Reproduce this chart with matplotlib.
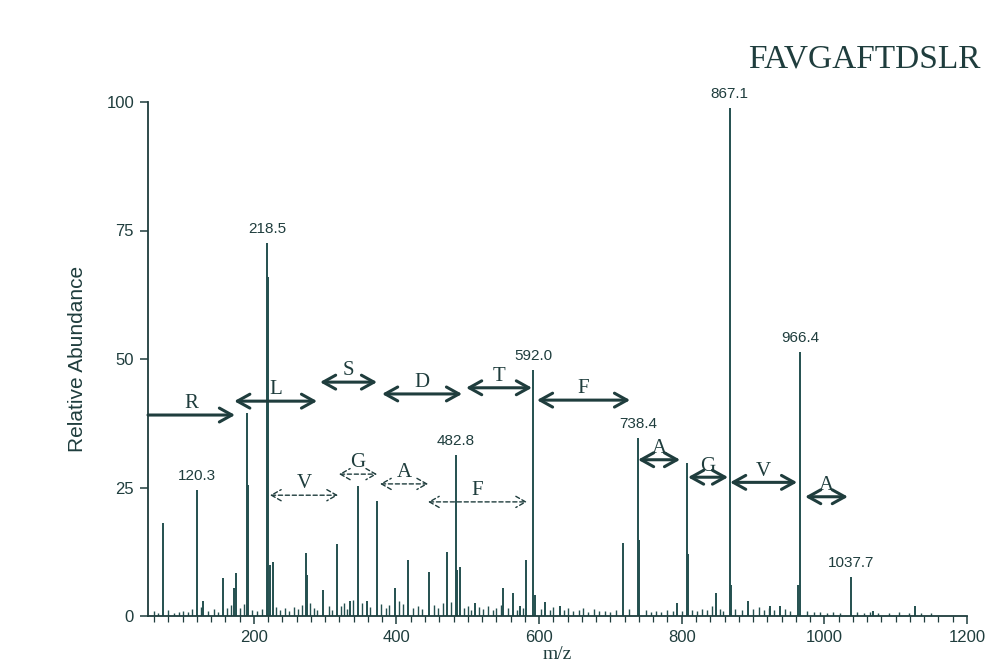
import matplotlib
matplotlib.use('Agg')
import matplotlib.pyplot as plt
from matplotlib.ticker import MultipleLocator

# major peaks (m/z, relative abundance)
peak_mz = [72.6, 120.3, 129, 157, 172, 175.5, 190.5, 192.5, 218.5, 220, 222, 226.5,
           272.5, 274.5, 297, 316.6, 335, 346, 358, 372.8, 398, 416, 445.7, 471.5,
           482.8, 485, 489, 510, 550, 563, 573, 581.8, 592.0, 594, 608, 629,
           718, 738.4, 740, 793, 807.5, 809, 848, 867.1, 869, 893, 924, 938,
           963.5, 966.4, 1037.7, 1068, 1127]
peak_int = [18, 24.5, 3, 7.4, 5.5, 8.4, 39.5, 25.5, 72.5, 66, 10, 10.5,
            12.2, 8, 5, 14, 3, 25.3, 3, 22.4, 5.4, 10.9, 8.6, 12.4,
            31.3, 9, 9.5, 2.5, 5.4, 4.5, 2, 10.9, 47.9, 4, 2.7, 2,
            14.2, 34.6, 14.8, 2.5, 29.8, 12, 4.5, 98.8, 6, 3, 2, 2,
            6, 51.4, 7.6, 1, 2]

# small background peaks
noise_peaks = [(60, 1.0), (66, 0.6), (80, 1.2), (88, 0.5), (95, 0.8), (101, 1.0),
               (108, 0.7), (113, 1.3), (126, 1.8), (136, 0.9), (144, 1.4), (150, 0.8),
               (163, 1.6), (168, 2.2), (181, 1.5), (186, 2.4), (198, 1.2), (205, 0.9),
               (211, 1.3), (231, 1.8), (236, 1.1), (244, 1.5), (249, 0.9), (256, 1.7),
               (262, 1.4), (268, 2.2), (279, 2.6), (284, 1.5), (289, 1.2), (305, 1.9),
               (310, 1.1), (322, 2.0), (327, 2.6), (331, 1.4), (339, 3.2), (352, 2.5),
               (363, 1.8), (378, 2.4), (385, 1.5), (390, 2.2), (403, 3.0), (409, 2.4),
               (423, 1.6), (430, 2.0), (436, 1.3), (452, 2.2), (458, 1.5), (465, 2.6),
               (477, 2.8), (495, 1.6), (500, 1.9), (505, 1.2), (516, 1.8), (522, 1.3),
               (528, 2.0), (535, 1.2), (540, 1.6), (546, 2.1), (557, 1.5), (569, 1.2),
               (577, 1.6), (603, 1.4), (615, 1.2), (620, 1.8), (635, 1.1), (641, 1.6),
               (648, 0.9), (656, 1.2), (662, 1.5), (669, 0.8), (677, 1.3), (684, 0.9),
               (692, 1.0), (700, 0.7), (708, 1.1), (726, 1.3), (750, 1.2), (757, 0.8),
               (764, 1.0), (771, 0.7), (780, 1.1), (788, 0.9), (800, 1.0), (815, 1.2),
               (822, 1.0), (829, 1.4), (836, 1.1), (842, 2.0), (853, 1.3), (858, 1.0),
               (875, 1.4), (885, 1.1), (900, 1.3), (908, 1.8), (915, 1.2), (922, 1.5),
               (930, 1.1), (945, 1.3), (952, 1.0), (975, 0.9), (985, 0.7), (994, 0.8),
               (1003, 0.6), (1012, 0.7), (1022, 0.6), (1046, 0.8), (1055, 0.6),
               (1064, 0.7), (1075, 0.6), (1090, 0.6), (1104, 0.7), (1118, 0.5),
               (1135, 0.6), (1150, 0.5)]

labelled = [120.3, 218.5, 482.8, 592.0, 738.4, 867.1, 966.4, 1037.7]
labelled_int = [24.5, 72.5, 31.3, 47.9, 34.6, 98.8, 51.4, 7.6]

# sequence ladder: (residue, start m/z, end m/z, height)
solid_arrows = [('L', 172.5, 288.7, 41.8), ('S', 292.8, 372.8, 45.5),
                ('D', 379.8, 492.0, 43.2), ('T', 497.6, 590.0, 44.4),
                ('F', 597.0, 727.6, 42.0), ('A', 738.7, 797.7, 30.4),
                ('G', 808.8, 865.0, 27.0), ('V', 867.8, 961.8, 26.0),
                ('A', 973.0, 1033.0, 23.2)]
r_arrow = ('R', 51.6, 173.6, 39.1)
dashed_arrows = [('V', 222.7, 318.0, 23.5), ('G', 319.4, 372.8, 27.6),
                 ('A', 377.0, 444.3, 25.7), ('F', 444.3, 583.0, 22.2)]

ink = '#1f3d3d'
line_c = '#24504f'

fig = plt.figure(figsize=(9.93, 6.68), dpi=100)
ax = fig.add_axes([148/993, 52/668, 819/993, 514/668])

nx = [p[0] for p in noise_peaks]
ny = [p[1] for p in noise_peaks]
ax.vlines(nx, 0, ny, color=line_c, lw=1.0)
ax.vlines(peak_mz, 0, peak_int, color=line_c, lw=1.4)

for mz, h in zip(labelled, labelled_int):
    ax.annotate('%.1f' % mz, (mz, h), xytext=(0, 5), textcoords='offset points',
                ha='center', va='bottom', fontsize=11, color=ink,
                family='Liberation Sans', annotation_clip=False)

serif = 'Liberation Serif'
for lab, a, b, y in solid_arrows:
    ax.annotate('', xy=(b, y), xytext=(a, y),
                arrowprops=dict(arrowstyle='<->,head_length=0.45,head_width=0.25',
                                lw=2.2, color=ink, shrinkA=0, shrinkB=0,
                                mutation_scale=20))
    ax.text((a + b) / 2, y + 1.3, lab, ha='center', va='baseline',
            fontsize=15, family=serif, color=ink)

lab, a, b, y = r_arrow
ax.annotate('', xy=(b, y), xytext=(a, y),
            arrowprops=dict(arrowstyle='->,head_length=0.45,head_width=0.25',
                            lw=2.2, color=ink, shrinkA=0, shrinkB=0,
                            mutation_scale=20))
ax.text((a + b) / 2, y + 1.3, lab, ha='center', va='baseline',
        fontsize=15, family=serif, color=ink)

for lab, a, b, y in dashed_arrows:
    ax.annotate('', xy=(b, y), xytext=(a, y),
                arrowprops=dict(arrowstyle='<->,head_length=0.35,head_width=0.2',
                                lw=1.0, ls=(0, (3, 2)), color=ink,
                                shrinkA=0, shrinkB=0, mutation_scale=20))
    ax.text((a + b) / 2, y + 1.4, lab, ha='center', va='baseline',
            fontsize=15, family=serif, color=ink)

ax.set_xlim(51.6, 1200)
ax.set_ylim(0, 100)
ax.set_xticks([200, 400, 600, 800, 1000, 1200])
ax.xaxis.set_minor_locator(MultipleLocator(20))
ax.set_yticks([0, 25, 50, 75, 100])
for s in ['top', 'right']:
    ax.spines[s].set_visible(False)
for s in ['left', 'bottom']:
    ax.spines[s].set_color(ink)
    ax.spines[s].set_linewidth(1.3)
ax.tick_params(axis='both', which='major', length=6, width=1.1, color=ink,
               labelcolor=ink, labelsize=12, pad=4)
ax.tick_params(axis='x', which='minor', length=4, width=0.9, color=ink)
for t in ax.get_xticklabels() + ax.get_yticklabels():
    t.set_family('Liberation Sans')

ax.set_ylabel('Relative Abundance', fontsize=15, family='Liberation Sans',
              color=ink, labelpad=14)
ax.set_xlabel('m/z', fontsize=14, family=serif, color=ink, labelpad=1)

fig.text(748/993, 1 - 67/668, 'FAVGAFTDSLR', fontsize=24, family=serif,
         color=ink, ha='left', va='baseline')

fig.savefig('out.png', dpi=100, facecolor='white')
